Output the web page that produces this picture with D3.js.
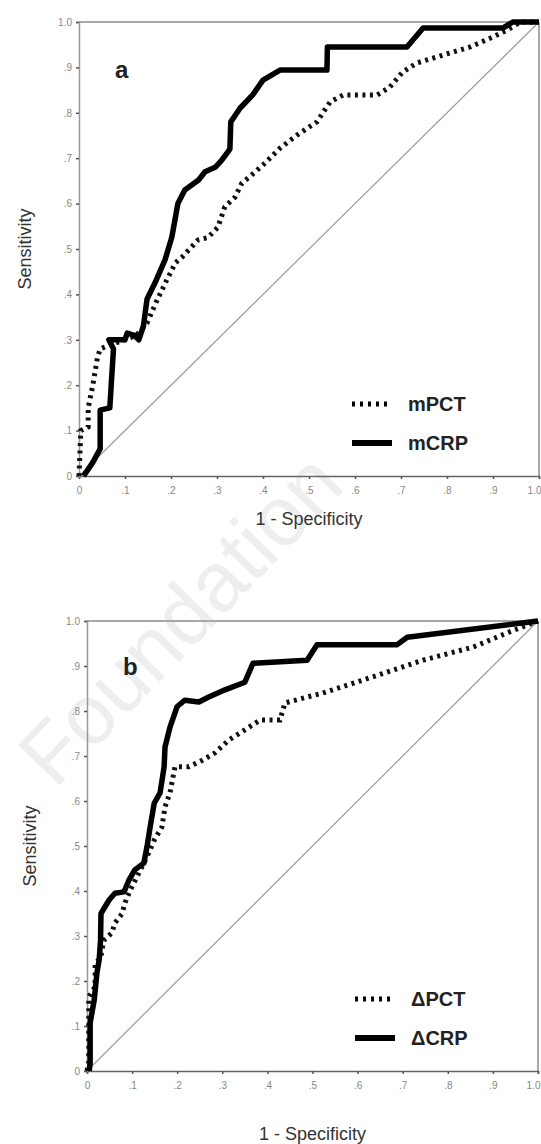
<!DOCTYPE html>
<html>
<head>
<meta charset="utf-8">
<script src="https://cdn.jsdelivr.net/npm/d3@7"></script>
<style>
  body { margin: 0; background: #fff; }
  svg { display: block; font-family: Arial, "Liberation Sans", sans-serif; }
</style>
</head>
<body>
<div id="chart"></div>
<script>
// tick values shared by both axes of both panels
const ticks = [0, 0.1, 0.2, 0.3, 0.4, 0.5, 0.6, 0.7, 0.8, 0.9, 1.0];

// panel a: ROC points, [1 - specificity, sensitivity]
const mPCT = [
  [0, 0], [0.002, 0.05], [0.004, 0.10], [0.02, 0.108], [0.02, 0.15], [0.03, 0.2],
  [0.04, 0.26], [0.046, 0.28], [0.07, 0.29], [0.10, 0.30], [0.125, 0.31],
  [0.148, 0.337], [0.17, 0.388], [0.19, 0.43], [0.21, 0.47], [0.224, 0.482],
  [0.259, 0.52], [0.28, 0.525], [0.302, 0.548], [0.317, 0.593], [0.339, 0.614],
  [0.354, 0.645], [0.372, 0.66], [0.40, 0.685], [0.437, 0.722], [0.474, 0.751],
  [0.517, 0.78], [0.546, 0.824], [0.574, 0.839], [0.648, 0.839], [0.676, 0.857],
  [0.704, 0.89], [0.735, 0.91], [0.791, 0.927], [0.85, 0.945], [0.90, 0.967],
  [0.93, 0.982], [0.96, 1.0], [1.0, 1.0]
];
const mCRP = [
  [0.01, 0], [0.03, 0.03], [0.046, 0.06], [0.046, 0.145], [0.067, 0.15],
  [0.07, 0.2], [0.075, 0.28], [0.065, 0.30], [0.10, 0.30], [0.105, 0.315],
  [0.12, 0.31], [0.13, 0.30], [0.14, 0.33], [0.148, 0.39], [0.165, 0.425],
  [0.187, 0.476], [0.202, 0.527], [0.215, 0.60], [0.23, 0.63], [0.26, 0.652],
  [0.274, 0.67], [0.296, 0.68], [0.31, 0.695], [0.328, 0.72], [0.33, 0.78],
  [0.35, 0.81], [0.378, 0.84], [0.40, 0.872], [0.437, 0.894], [0.539, 0.894],
  [0.54, 0.945], [0.713, 0.945], [0.748, 0.987], [0.922, 0.987], [0.943, 1.0],
  [1.0, 1.0]
];

// panel b
const dPCT = [
  [0, 0], [0.004, 0.02], [0.004, 0.165], [0.018, 0.187], [0.018, 0.24],
  [0.03, 0.25], [0.037, 0.29], [0.055, 0.307], [0.062, 0.329], [0.078, 0.35],
  [0.084, 0.373], [0.095, 0.40], [0.115, 0.44], [0.133, 0.476], [0.149, 0.513],
  [0.166, 0.542], [0.173, 0.587], [0.184, 0.618], [0.195, 0.676], [0.226, 0.676],
  [0.255, 0.69], [0.284, 0.707], [0.315, 0.736], [0.339, 0.751], [0.373, 0.773],
  [0.384, 0.78], [0.428, 0.78], [0.439, 0.818], [0.523, 0.84], [0.634, 0.876],
  [0.745, 0.913], [0.856, 0.942], [0.93, 0.973], [0.989, 0.996], [1.0, 1.0]
];
const dCRP = [
  [0.005, 0], [0.007, 0.018], [0.007, 0.107], [0.016, 0.158], [0.022, 0.218],
  [0.027, 0.247], [0.03, 0.29], [0.031, 0.35], [0.049, 0.38], [0.062, 0.395],
  [0.082, 0.398], [0.093, 0.424], [0.106, 0.447], [0.126, 0.462], [0.133, 0.498],
  [0.14, 0.542], [0.149, 0.595], [0.162, 0.618], [0.171, 0.676], [0.173, 0.72],
  [0.184, 0.764], [0.20, 0.81], [0.217, 0.824], [0.248, 0.82], [0.27, 0.831],
  [0.306, 0.847], [0.35, 0.864], [0.368, 0.906], [0.488, 0.913], [0.51, 0.947],
  [0.687, 0.947], [0.71, 0.964], [1.0, 1.0]
];

const legendA = ['mPCT', 'mCRP'];
const legendB = ['\u0394PCT', '\u0394CRP'];

const W = 541, H = 1144;

const svg = d3.select('#chart').append('svg')
  .attr('width', W)
  .attr('height', H);

// faint watermark of the source page
svg.append('text')
  .attr('transform', 'translate(55,790) rotate(-46)')
  .attr('font-size', 84)
  .attr('fill', '#eeeeee')
  .text('Foundation');

function fmt(d) {
  if (d === 0) return '0';
  if (d === 1) return '1.0';
  return d3.format('.1f')(d).replace(/^0/, '');
}

function drawPanel(p) {
  const x = d3.scaleLinear().domain([0, 1]).range([p.left, p.right]);
  const y = d3.scaleLinear().domain([0, 1]).range([p.bottom, p.top]);
  const g = svg.append('g');

  // frame: top and right edges
  g.append('line')
    .attr('x1', p.left).attr('x2', p.right)
    .attr('y1', y(1)).attr('y2', y(1))
    .attr('stroke', '#a8a8a8').attr('stroke-width', 2);
  g.append('line')
    .attr('x1', p.right).attr('x2', p.right)
    .attr('y1', y(1)).attr('y2', y(0))
    .attr('stroke', '#a8a8a8').attr('stroke-width', 2);

  // chance diagonal
  g.append('line')
    .attr('x1', x(0)).attr('y1', y(0))
    .attr('x2', x(1)).attr('y2', y(1))
    .attr('stroke', '#9a9a9a').attr('stroke-width', 1.2);

  const xAxis = g.append('g')
    .attr('transform', `translate(0,${p.bottom})`)
    .call(d3.axisBottom(x).tickValues(ticks).tickFormat(fmt).tickSize(3).tickPadding(8));
  const yAxis = g.append('g')
    .attr('transform', `translate(${p.left},0)`)
    .call(d3.axisLeft(y).tickValues(ticks).tickFormat(fmt).tickSize(3).tickPadding(4));

  xAxis.select('.domain').attr('stroke', '#666').attr('stroke-width', 1.5);
  yAxis.select('.domain').attr('stroke', '#999').attr('stroke-width', 1.5);
  for (const a of [xAxis, yAxis]) {
    a.selectAll('.tick line').attr('stroke', '#555').attr('stroke-width', 1.5);
    a.selectAll('.tick text').attr('fill', '#888').attr('font-size', 10);
  }
  // last x label sits against the page edge
  xAxis.selectAll('.tick text')
    .filter((d) => d === 1)
    .attr('text-anchor', 'end')
    .attr('dx', 2);

  const line = d3.line().x((d) => x(d[0])).y((d) => y(d[1]));

  g.append('path')
    .datum(p.dotted)
    .attr('d', line)
    .attr('fill', 'none')
    .attr('stroke', '#111')
    .attr('stroke-width', 5)
    .attr('stroke-dasharray', '3,4.5');

  g.append('path')
    .datum(p.solid)
    .attr('d', line)
    .attr('fill', 'none')
    .attr('stroke', '#000')
    .attr('stroke-width', 5.5)
    .attr('stroke-linejoin', 'round');

  // panel letter
  g.append('text')
    .attr('x', p.letterX).attr('y', p.letterY)
    .attr('font-size', 24).attr('font-weight', 'bold')
    .attr('fill', '#222')
    .text(p.letter);

  // legend
  p.legend.forEach((name, i) => {
    const ly = p.legendY + i * 39;
    g.append('line')
      .attr('x1', p.legendX).attr('x2', p.legendX + 40)
      .attr('y1', ly).attr('y2', ly)
      .attr('stroke', '#000')
      .attr('stroke-width', i === 0 ? 5 : 6)
      .attr('stroke-dasharray', i === 0 ? '3,5' : null);
    g.append('text')
      .attr('x', p.legendX + 56).attr('y', ly + 7)
      .attr('font-size', 20).attr('font-weight', 'bold')
      .attr('fill', '#222')
      .text(name);
  });

  // axis titles
  g.append('text')
    .attr('x', (p.left + p.right) / 2).attr('y', p.xTitleY)
    .attr('text-anchor', 'middle')
    .attr('font-size', 18).attr('fill', '#333')
    .text('1 - Specificity');
  g.append('text')
    .attr('transform', `translate(${p.yTitleX},${(p.top + p.bottom) / 2}) rotate(-90)`)
    .attr('text-anchor', 'middle')
    .attr('font-size', 18).attr('fill', '#333')
    .text('Sensitivity');
}

drawPanel({
  left: 79, right: 539, top: 22, bottom: 476,
  dotted: mPCT, solid: mCRP, legend: legendA,
  letter: 'a', letterX: 115, letterY: 78,
  legendX: 352, legendY: 404,
  xTitleY: 525, yTitleX: 31
});

drawPanel({
  left: 87, right: 538, top: 621, bottom: 1071,
  dotted: dPCT, solid: dCRP, legend: legendB,
  letter: 'b', letterX: 123, letterY: 675,
  legendX: 355, legendY: 999,
  xTitleY: 1140, yTitleX: 36
});
</script>
</body>
</html>
